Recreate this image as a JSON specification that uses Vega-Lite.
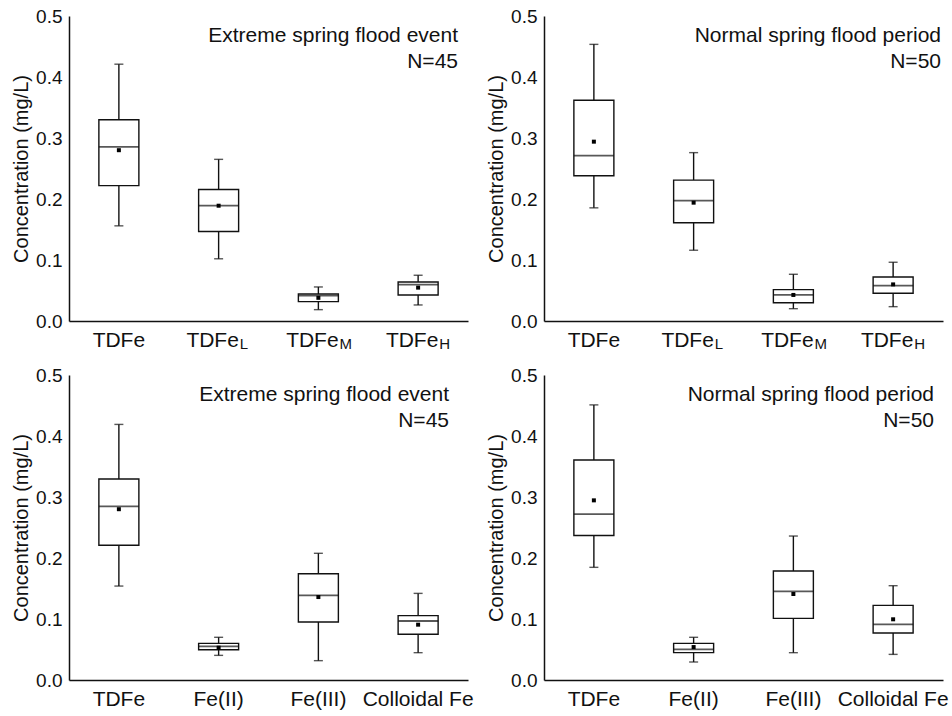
{
  "$schema": "https://vega.github.io/schema/vega-lite/v6.json",
  "padding": {"left": 11, "top": 7, "right": 5, "bottom": 5},
  "background": "white",
  "datasets": {
    "box": [
      {"panel": "A", "cat": "TDFe", "lo": 0.156, "q1": 0.222, "med": 0.2856, "q3": 0.330, "hi": 0.421, "mean": 0.280},
      {"panel": "A", "cat": "TDFe_L", "lo": 0.102, "q1": 0.1466, "med": 0.189, "q3": 0.2155, "hi": 0.265, "mean": 0.189},
      {"panel": "A", "cat": "TDFe_M", "lo": 0.0186, "q1": 0.0317, "med": 0.0416, "q3": 0.0443, "hi": 0.0558, "mean": 0.038},
      {"panel": "A", "cat": "TDFe_H", "lo": 0.0263, "q1": 0.0427, "med": 0.0596, "q3": 0.064, "hi": 0.075, "mean": 0.0547},
      {"panel": "B", "cat": "TDFe", "lo": 0.1855, "q1": 0.238, "med": 0.271, "q3": 0.362, "hi": 0.4535, "mean": 0.294},
      {"panel": "B", "cat": "TDFe_L", "lo": 0.116, "q1": 0.161, "med": 0.1975, "q3": 0.231, "hi": 0.276, "mean": 0.194},
      {"panel": "B", "cat": "TDFe_M", "lo": 0.0202, "q1": 0.030, "med": 0.0427, "q3": 0.0514, "hi": 0.0766, "mean": 0.0427},
      {"panel": "B", "cat": "TDFe_H", "lo": 0.0235, "q1": 0.0454, "med": 0.058, "q3": 0.0722, "hi": 0.0963, "mean": 0.060},
      {"panel": "C", "cat": "TDFe", "lo": 0.154, "q1": 0.2208, "med": 0.2847, "q3": 0.3295, "hi": 0.419, "mean": 0.280},
      {"panel": "C", "cat": "Fe(II)", "lo": 0.0404, "q1": 0.0497, "med": 0.055, "q3": 0.060, "hi": 0.070, "mean": 0.053},
      {"panel": "C", "cat": "Fe(III)", "lo": 0.0317, "q1": 0.0951, "med": 0.1388, "q3": 0.1743, "hi": 0.2077, "mean": 0.136},
      {"panel": "C", "cat": "Colloidal Fe", "lo": 0.0448, "q1": 0.0749, "med": 0.0967, "q3": 0.1055, "hi": 0.142, "mean": 0.0907},
      {"panel": "D", "cat": "TDFe", "lo": 0.1847, "q1": 0.237, "med": 0.272, "q3": 0.3607, "hi": 0.451, "mean": 0.2945},
      {"panel": "D", "cat": "Fe(II)", "lo": 0.0295, "q1": 0.0448, "med": 0.0503, "q3": 0.060, "hi": 0.070, "mean": 0.054},
      {"panel": "D", "cat": "Fe(III)", "lo": 0.0448, "q1": 0.101, "med": 0.1454, "q3": 0.1787, "hi": 0.236, "mean": 0.141},
      {"panel": "D", "cat": "Colloidal Fe", "lo": 0.042, "q1": 0.077, "med": 0.0913, "q3": 0.1224, "hi": 0.1546, "mean": 0.0995}
    ],
    "subs": [
      {"cat": "TDFe_L", "sub": "L"},
      {"cat": "TDFe_M", "sub": "M"},
      {"cat": "TDFe_H", "sub": "H"}
    ]
  },
  "columns": 2,
  "bounds": "flush",
  "spacing": {"row": 54, "column": 76},
  "concat": [
    {
      "width": 399, "height": 305,
      "title": {"text": "Extreme spring flood event", "subtitle": "N=45", "dx": -10},
      "layer": [
        {
          "data": {"name": "box"}, "transform": [{"filter": "datum.panel === 'A'"}],
          "layer": [
            {"mark": {"type": "rule", "stroke": "#111", "strokeWidth": 1.4},
             "encoding": {
               "x": {"field": "cat", "type": "nominal", "sort": ["TDFe", "TDFe_L", "TDFe_M", "TDFe_H"], "scale": {"type": "band", "paddingInner": 0, "paddingOuter": 0}, "title": null,
                     "axis": {"labelExpr": "split(datum.value, '_')[0]", "labelOffset": {"condition": {"test": "indexof(datum.value, '_') >= 0", "value": -6}, "value": 0}}},
               "y": {"field": "lo", "type": "quantitative", "scale": {"domain": [0, 0.5], "nice": false}, "title": "Concentration (mg/L)", "axis": {"values": [0, 0.1, 0.2, 0.3, 0.4, 0.5], "format": ".1f"}},
               "y2": {"field": "hi"}}},
            {"mark": {"type": "bar", "fill": "white", "stroke": "#111", "strokeWidth": 1.4, "size": 40},
             "encoding": {"x": {"field": "cat", "type": "nominal", "sort": ["TDFe", "TDFe_L", "TDFe_M", "TDFe_H"]}, "y": {"field": "q1", "type": "quantitative"}, "y2": {"field": "q3"}}},
            {"mark": {"type": "tick", "color": "#111", "size": 40, "thickness": 1.8},
             "encoding": {"x": {"field": "cat", "type": "nominal", "sort": ["TDFe", "TDFe_L", "TDFe_M", "TDFe_H"]}, "y": {"field": "med", "type": "quantitative"}}},
            {"mark": {"type": "tick", "color": "#111", "size": 9, "thickness": 1.4},
             "encoding": {"x": {"field": "cat", "type": "nominal", "sort": ["TDFe", "TDFe_L", "TDFe_M", "TDFe_H"]}, "y": {"field": "lo", "type": "quantitative"}}},
            {"mark": {"type": "tick", "color": "#111", "size": 9, "thickness": 1.4},
             "encoding": {"x": {"field": "cat", "type": "nominal", "sort": ["TDFe", "TDFe_L", "TDFe_M", "TDFe_H"]}, "y": {"field": "hi", "type": "quantitative"}}},
            {"mark": {"type": "point", "shape": "square", "filled": true, "color": "#000", "size": 16, "opacity": 1},
             "encoding": {"x": {"field": "cat", "type": "nominal", "sort": ["TDFe", "TDFe_L", "TDFe_M", "TDFe_H"]}, "y": {"field": "mean", "type": "quantitative"}}}
          ]
        },
        {
          "data": {"name": "subs"},
          "mark": {"type": "text", "fontSize": 15, "align": "left", "baseline": "alphabetic", "dx": 21, "dy": 28, "color": "#111"},
          "encoding": {"x": {"field": "cat", "type": "nominal", "sort": ["TDFe", "TDFe_L", "TDFe_M", "TDFe_H"]}, "y": {"datum": 0, "type": "quantitative"}, "text": {"field": "sub"}}
        }
      ]
    },
    {
      "width": 399, "height": 305,
      "title": {"text": "Normal spring flood period", "subtitle": "N=50", "dx": -2},
      "layer": [
        {
          "data": {"name": "box"}, "transform": [{"filter": "datum.panel === 'B'"}],
          "layer": [
            {"mark": {"type": "rule", "stroke": "#111", "strokeWidth": 1.4},
             "encoding": {
               "x": {"field": "cat", "type": "nominal", "sort": ["TDFe", "TDFe_L", "TDFe_M", "TDFe_H"], "scale": {"type": "band", "paddingInner": 0, "paddingOuter": 0}, "title": null,
                     "axis": {"labelExpr": "split(datum.value, '_')[0]", "labelOffset": {"condition": {"test": "indexof(datum.value, '_') >= 0", "value": -6}, "value": 0}}},
               "y": {"field": "lo", "type": "quantitative", "scale": {"domain": [0, 0.5], "nice": false}, "title": "Concentration (mg/L)", "axis": {"values": [0, 0.1, 0.2, 0.3, 0.4, 0.5], "format": ".1f"}},
               "y2": {"field": "hi"}}},
            {"mark": {"type": "bar", "fill": "white", "stroke": "#111", "strokeWidth": 1.4, "size": 40},
             "encoding": {"x": {"field": "cat", "type": "nominal", "sort": ["TDFe", "TDFe_L", "TDFe_M", "TDFe_H"]}, "y": {"field": "q1", "type": "quantitative"}, "y2": {"field": "q3"}}},
            {"mark": {"type": "tick", "color": "#111", "size": 40, "thickness": 1.8},
             "encoding": {"x": {"field": "cat", "type": "nominal", "sort": ["TDFe", "TDFe_L", "TDFe_M", "TDFe_H"]}, "y": {"field": "med", "type": "quantitative"}}},
            {"mark": {"type": "tick", "color": "#111", "size": 9, "thickness": 1.4},
             "encoding": {"x": {"field": "cat", "type": "nominal", "sort": ["TDFe", "TDFe_L", "TDFe_M", "TDFe_H"]}, "y": {"field": "lo", "type": "quantitative"}}},
            {"mark": {"type": "tick", "color": "#111", "size": 9, "thickness": 1.4},
             "encoding": {"x": {"field": "cat", "type": "nominal", "sort": ["TDFe", "TDFe_L", "TDFe_M", "TDFe_H"]}, "y": {"field": "hi", "type": "quantitative"}}},
            {"mark": {"type": "point", "shape": "square", "filled": true, "color": "#000", "size": 16, "opacity": 1},
             "encoding": {"x": {"field": "cat", "type": "nominal", "sort": ["TDFe", "TDFe_L", "TDFe_M", "TDFe_H"]}, "y": {"field": "mean", "type": "quantitative"}}}
          ]
        },
        {
          "data": {"name": "subs"},
          "mark": {"type": "text", "fontSize": 15, "align": "left", "baseline": "alphabetic", "dx": 21, "dy": 28, "color": "#111"},
          "encoding": {"x": {"field": "cat", "type": "nominal", "sort": ["TDFe", "TDFe_L", "TDFe_M", "TDFe_H"]}, "y": {"datum": 0, "type": "quantitative"}, "text": {"field": "sub"}}
        }
      ]
    },
    {
      "width": 399, "height": 305,
      "title": {"text": "Extreme spring flood event", "subtitle": "N=45", "dx": -19},
      "data": {"name": "box"}, "transform": [{"filter": "datum.panel === 'C'"}],
      "layer": [
        {"mark": {"type": "rule", "stroke": "#111", "strokeWidth": 1.4},
         "encoding": {
           "x": {"field": "cat", "type": "nominal", "sort": ["TDFe", "Fe(II)", "Fe(III)", "Colloidal Fe"], "scale": {"type": "band", "paddingInner": 0, "paddingOuter": 0}, "title": null},
           "y": {"field": "lo", "type": "quantitative", "scale": {"domain": [0, 0.5], "nice": false}, "title": "Concentration (mg/L)", "axis": {"values": [0, 0.1, 0.2, 0.3, 0.4, 0.5], "format": ".1f"}},
           "y2": {"field": "hi"}}},
        {"mark": {"type": "bar", "fill": "white", "stroke": "#111", "strokeWidth": 1.4, "size": 40},
         "encoding": {"x": {"field": "cat", "type": "nominal", "sort": ["TDFe", "Fe(II)", "Fe(III)", "Colloidal Fe"]}, "y": {"field": "q1", "type": "quantitative"}, "y2": {"field": "q3"}}},
        {"mark": {"type": "tick", "color": "#111", "size": 40, "thickness": 1.8},
         "encoding": {"x": {"field": "cat", "type": "nominal", "sort": ["TDFe", "Fe(II)", "Fe(III)", "Colloidal Fe"]}, "y": {"field": "med", "type": "quantitative"}}},
        {"mark": {"type": "tick", "color": "#111", "size": 9, "thickness": 1.4},
         "encoding": {"x": {"field": "cat", "type": "nominal", "sort": ["TDFe", "Fe(II)", "Fe(III)", "Colloidal Fe"]}, "y": {"field": "lo", "type": "quantitative"}}},
        {"mark": {"type": "tick", "color": "#111", "size": 9, "thickness": 1.4},
         "encoding": {"x": {"field": "cat", "type": "nominal", "sort": ["TDFe", "Fe(II)", "Fe(III)", "Colloidal Fe"]}, "y": {"field": "hi", "type": "quantitative"}}},
        {"mark": {"type": "point", "shape": "square", "filled": true, "color": "#000", "size": 16, "opacity": 1},
         "encoding": {"x": {"field": "cat", "type": "nominal", "sort": ["TDFe", "Fe(II)", "Fe(III)", "Colloidal Fe"]}, "y": {"field": "mean", "type": "quantitative"}}}
      ]
    },
    {
      "width": 399, "height": 305,
      "title": {"text": "Normal spring flood period", "subtitle": "N=50", "dx": -9},
      "data": {"name": "box"}, "transform": [{"filter": "datum.panel === 'D'"}],
      "layer": [
        {"mark": {"type": "rule", "stroke": "#111", "strokeWidth": 1.4},
         "encoding": {
           "x": {"field": "cat", "type": "nominal", "sort": ["TDFe", "Fe(II)", "Fe(III)", "Colloidal Fe"], "scale": {"type": "band", "paddingInner": 0, "paddingOuter": 0}, "title": null},
           "y": {"field": "lo", "type": "quantitative", "scale": {"domain": [0, 0.5], "nice": false}, "title": "Concentration (mg/L)", "axis": {"values": [0, 0.1, 0.2, 0.3, 0.4, 0.5], "format": ".1f"}},
           "y2": {"field": "hi"}}},
        {"mark": {"type": "bar", "fill": "white", "stroke": "#111", "strokeWidth": 1.4, "size": 40},
         "encoding": {"x": {"field": "cat", "type": "nominal", "sort": ["TDFe", "Fe(II)", "Fe(III)", "Colloidal Fe"]}, "y": {"field": "q1", "type": "quantitative"}, "y2": {"field": "q3"}}},
        {"mark": {"type": "tick", "color": "#111", "size": 40, "thickness": 1.8},
         "encoding": {"x": {"field": "cat", "type": "nominal", "sort": ["TDFe", "Fe(II)", "Fe(III)", "Colloidal Fe"]}, "y": {"field": "med", "type": "quantitative"}}},
        {"mark": {"type": "tick", "color": "#111", "size": 9, "thickness": 1.4},
         "encoding": {"x": {"field": "cat", "type": "nominal", "sort": ["TDFe", "Fe(II)", "Fe(III)", "Colloidal Fe"]}, "y": {"field": "lo", "type": "quantitative"}}},
        {"mark": {"type": "tick", "color": "#111", "size": 9, "thickness": 1.4},
         "encoding": {"x": {"field": "cat", "type": "nominal", "sort": ["TDFe", "Fe(II)", "Fe(III)", "Colloidal Fe"]}, "y": {"field": "hi", "type": "quantitative"}}},
        {"mark": {"type": "point", "shape": "square", "filled": true, "color": "#000", "size": 16, "opacity": 1},
         "encoding": {"x": {"field": "cat", "type": "nominal", "sort": ["TDFe", "Fe(II)", "Fe(III)", "Colloidal Fe"]}, "y": {"field": "mean", "type": "quantitative"}}}
      ]
    }
  ],
  "config": {
    "font": "Liberation Sans",
    "view": {"stroke": null},
    "axis": {"grid": false, "ticks": false, "tickSize": 0, "domainColor": "#111", "domainWidth": 1.5, "labelColor": "#111", "labelFont": "Liberation Sans", "titleFont": "Liberation Sans", "titleColor": "#111", "titleFontWeight": "normal"},
    "axisX": {"labelFontSize": 21, "labelPadding": 8, "labelAngle": 0},
    "axisY": {"labelFontSize": 19, "labelPadding": 7, "titleFontSize": 20, "titlePadding": 4},
    "title": {"anchor": "end", "frame": "group", "font": "Liberation Sans", "subtitleFont": "Liberation Sans", "fontSize": 21, "fontWeight": "normal", "subtitleFontSize": 21, "color": "#111", "subtitleColor": "#111", "offset": -65, "subtitlePadding": 5}
  }
}
